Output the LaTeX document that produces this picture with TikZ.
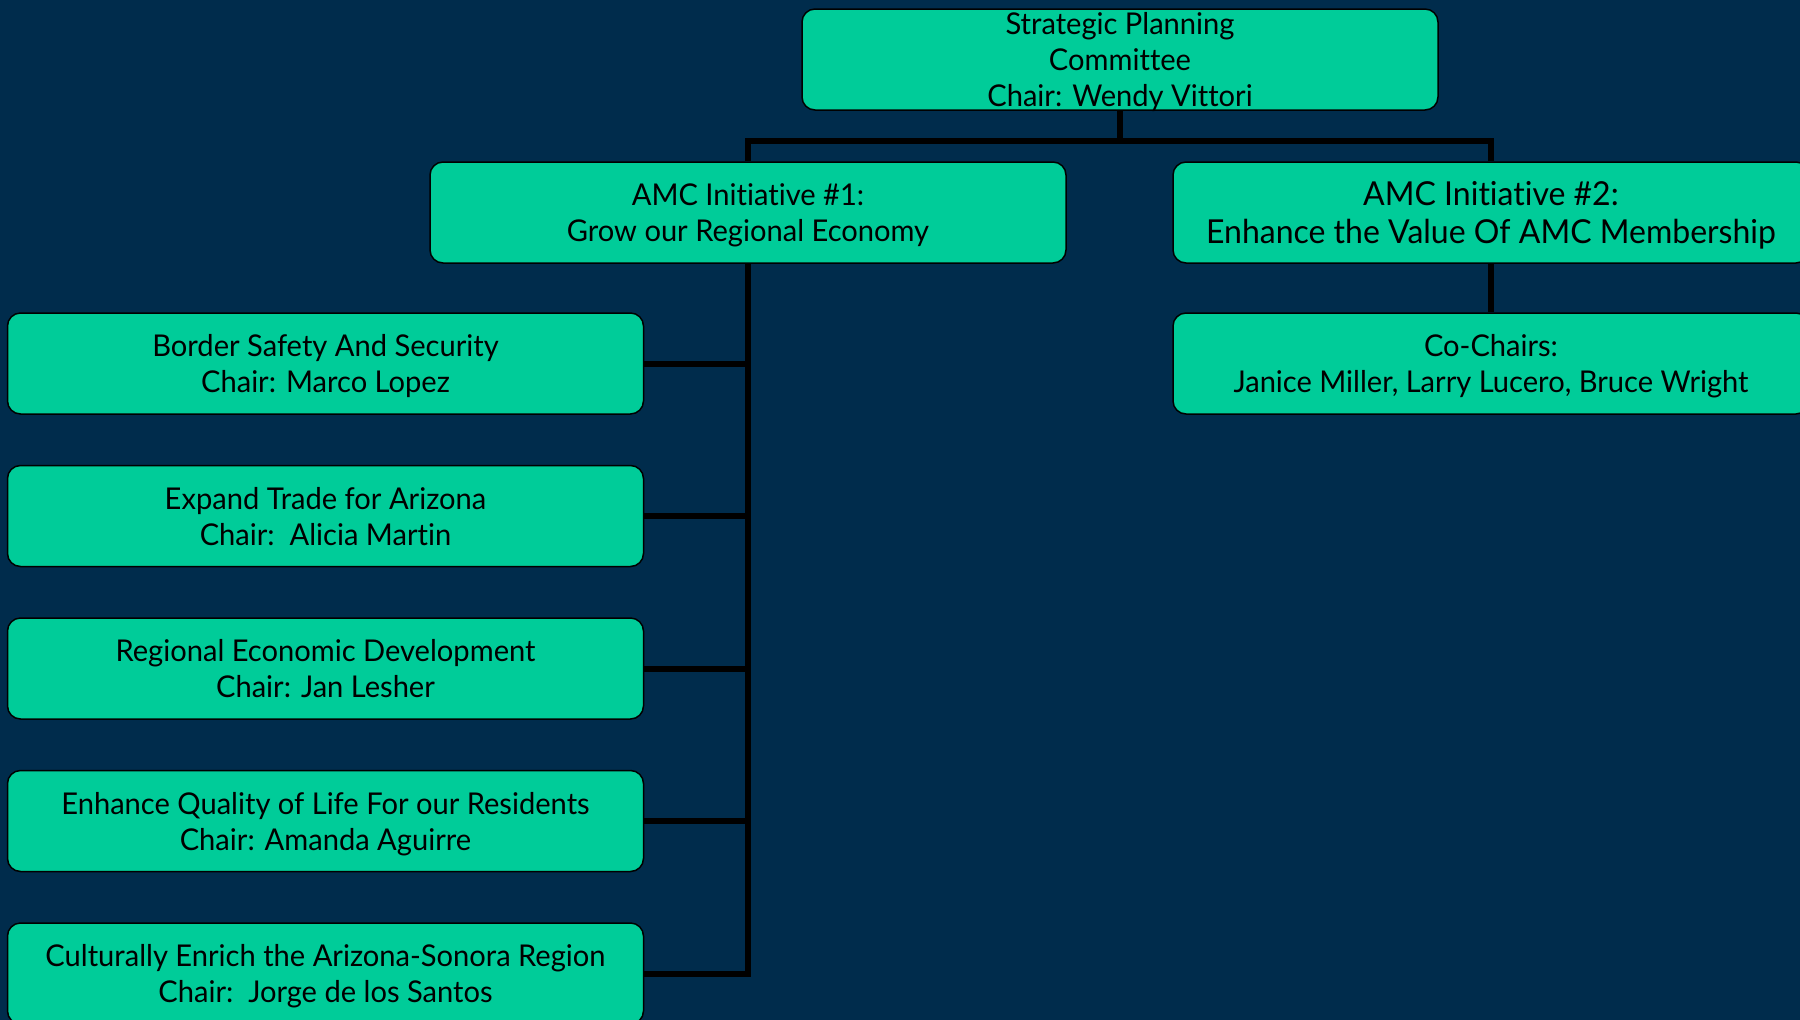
\documentclass[tikz,border=0pt]{standalone}
\usepackage{fontspec}
\setmainfont{Lato}[FakeStretch=0.97,Ligatures=NoCommon]
\definecolor{navy}{RGB}{0,44,76}
\definecolor{boxgreen}{RGB}{0,204,153}
\begin{document}
\begin{tikzpicture}[x=1pt,y=-1pt,
        unit/.style={draw=black, line width=1.5pt, fill=boxgreen, rounded corners=13pt,
            minimum width=636pt, minimum height=101pt, inner sep=0pt, align=center,
            text depth=0pt, font=\fontsize{30}{36}\selectfont},
        link/.style={line width=6pt}]
        \fill[navy] (0,0) rectangle (1800,1020);
        \useasboundingbox (0,0) rectangle (1800,1020);
    %Boxes
        \path node[unit] (top) at (1120,59.5) {Strategic Planning\\Committee\\Chair: Wendy Vittori};
        \path node[unit] (b1) at (748,212.5) {AMC Initiative \#1:\\Grow our Regional Economy};
        \path node[unit, font=\fontsize{33}{38}\selectfont] (b2) at (1491,212.5) {AMC Initiative \#2:\\Enhance the Value Of AMC Membership};
        \path node[unit] (co) at (1491,363.5) {Co-Chairs:\\Janice Miller, Larry Lucero, Bruce Wright};
        \foreach \txt [count=\i] in {{Border Safety And Security\\Chair: Marco Lopez},
                {Expand Trade for Arizona\\Chair:\ \ Alicia Martin},
                {Regional Economic Development\\Chair: Jan Lesher},
                {Enhance Quality of Life For our Residents\\Chair: Amanda Aguirre},
                {Culturally Enrich the Arizona-Sonora Region\\Chair:\ \ Jorge de los Santos}}
            \path node[unit] (c\i) at (325.5,{211+152.5*\i}) {\txt};
    %Links
        \coordinate (bus) at (1120,141);
        \draw[link] (top.south) -- (bus);
        \draw[link] (b1.north) |- (bus) -| (b2.north);
        \draw[link] (b2.south) -- (co.north);
        \draw[link] (b1.south) |- (c5.east);
        \foreach \i in {1,...,4}
            \draw[link] (c\i.east) -- (c\i.east -| b1.south);
\end{tikzpicture}
\end{document}
